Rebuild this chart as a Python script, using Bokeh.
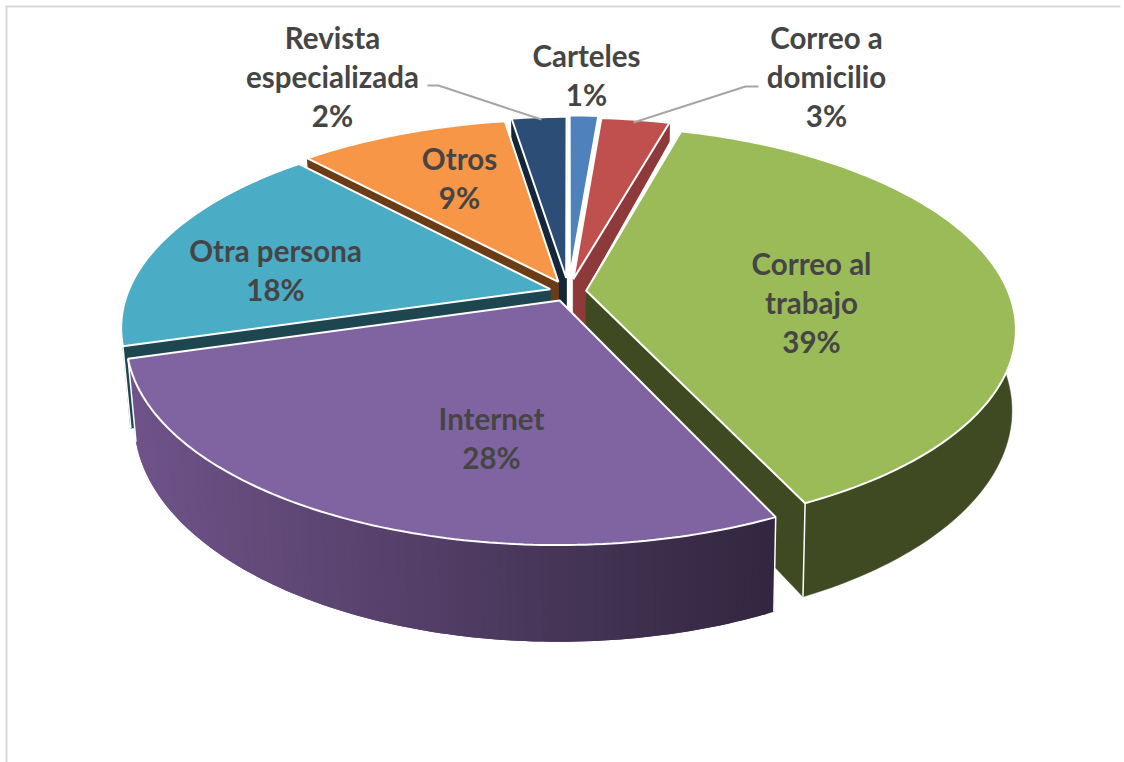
import math
from bokeh.plotting import figure
from bokeh.models import Range1d, ColumnDataSource
from bokeh.core.properties import value
from bokeh.embed import file_html
from bokeh.resources import INLINE

# ---- data (clockwise from the top) ----
categories = ["Carteles", "Correo a domicilio", "Correo al trabajo", "Internet",
              "Otra persona", "Otros", "Revista especializada"]
shares = [1.3, 3.1, 38.6, 27.5, 17.5, 9.49, 2.49]
percent_labels = ["1%", "3%", "39%", "28%", "18%", "9%", "2%"]
label_lines = [["Carteles"], ["Correo a", "domicilio"], ["Correo al", "trabajo"], ["Internet"],
               ["Otra persona"], ["Otros"], ["Revista", "especializada"]]

# ---- styling ----
top_colors = ["#4f81bd", "#c0504d", "#9bbb59", "#8064a2", "#4bacc6", "#f79646", "#2c4d75"]
face_colors = ["#2c4d75", "#8f3a3a", "#3f4a22", "#3f2f57", "#1d4651", "#6b3d17", "#14263a"]
wall_left = [None, "#8f3a3a", "#3f4a22", "#6f5389", "#1d4651", "#6b3d17", "#14263a"]
wall_right = [None, "#8f3a3a", "#3f4a22", "#32263f", "#1d4651", "#6b3d17", "#14263a"]
explode = [0.08, 0.065, 0.042, 0.05, 0.045, 0.055, 0.07]
label_centers = [(586, 55), (826, 37), (811, 263), (491, 418), (275, 250), (459, 158), (332, 37)]
LINE_STEP = 39
leaders = [([427, 438, 541], [85, 85, 119]), ([633, 745, 758], [122, 86, 86])]

# ---- projection of the pie plane on the page ----
CX, CY, R, K, D, H = 568.0, 291.0, 422.0, 195.6, 0.185, 78.0
SHRINK_LEFT, SHRINK_RIGHT = 0.982, 0.991


def proj(u, v):
    s = 1.0 / (1.0 - D * v)
    return CX + R * u * s, CY + K * v * s, s


def down(pt):
    f = SHRINK_LEFT if pt[0] < CX else SHRINK_RIGHT
    return CX + (pt[0] - CX) * f, pt[1] + H * pt[2]


def hexrgb(h):
    return tuple(int(h[i:i + 2], 16) for i in (1, 3, 5))


def mix(a, b, t):
    ca, cb = hexrgb(a), hexrgb(b)
    return "#%02x%02x%02x" % tuple(round(ca[i] + (cb[i] - ca[i]) * t) for i in range(3))


p = figure(width=1124, height=762, x_range=Range1d(0, 1124), y_range=Range1d(762, 0),
           output_backend="svg", toolbar_location=None, min_border=0,
           outline_line_color=None, background_fill_color="white")
p.axis.visible = False
p.grid.visible = False

# frame (top and left only)
p.line([5, 1120], [6, 6], line_color="#d9d9d9", line_width=2)
p.line([6, 6], [5, 762], line_color="#d9d9d9", line_width=2)

# slice geometry
total = sum(shares)
angles = [0.0]
for v_ in shares:
    angles.append(angles[-1] + v_ / total * 2 * math.pi)

slices = []
for i in range(len(shares)):
    a0, a1 = angles[i], angles[i + 1]
    mid = (a0 + a1) / 2
    eu, ev = explode[i] * math.sin(mid), -explode[i] * math.cos(mid)
    n = max(4, int((a1 - a0) * 60))
    arc = [proj(eu + math.sin(a0 + (a1 - a0) * j / n), ev - math.cos(a0 + (a1 - a0) * j / n))
           for j in range(n + 1)]
    apex = proj(eu, ev)
    slices.append(dict(i=i, a0=a0, a1=a1, arc=arc, apex=apex))

# paint back to front
order = [6, 0, 1, 5, 4, 2, 3]
xmin, xmax = 130.0, 780.0
for idx in order:
    sl = slices[idx]
    arc, apex = sl["arc"], sl["apex"]

    # white gap kept along the leading edge of the largest slice
    if idx == 2:
        p.patch([apex[0], arc[0][0], arc[0][0] - 8], [apex[1], arc[0][1], arc[0][1] + 5],
                fill_color="white", line_color="white", line_width=1)

    # cut faces: hidden one first
    faces = [(-math.sin(sl["a0"]), arc[0]), (math.sin(sl["a1"]), arc[-1])]
    faces.sort(key=lambda f: f[0])
    if idx != 0:
        for _, outer in faces:
            b_out, b_apex = down(outer), down(apex)
            p.patch([apex[0], outer[0], b_out[0], b_apex[0]],
                    [apex[1], outer[1], b_out[1], b_apex[1]],
                    fill_color=face_colors[idx], line_color=face_colors[idx], line_width=0.5)

    # outer wall: one piece when flat, overlapping fine steps when shaded
    if wall_left[idx] is not None:
        if wall_left[idx] == wall_right[idx]:
            bottom = [down(q) for q in arc]
            p.patch([q[0] for q in arc] + [q[0] for q in reversed(bottom)],
                    [q[1] for q in arc] + [q[1] for q in reversed(bottom)],
                    fill_color=wall_left[idx], line_color=wall_left[idx], line_width=0.5)
        else:
            for j in range(len(arc) - 1):
                seg = arc[j:j + 3]
                bottom = [down(q) for q in seg]
                t = min(1.0, max(0.0, (seg[0][0] - xmin) / (xmax - xmin)))
                col = mix(wall_left[idx], wall_right[idx], t)
                p.patch([q[0] for q in seg] + [q[0] for q in reversed(bottom)],
                        [q[1] for q in seg] + [q[1] for q in reversed(bottom)],
                        fill_color=col, line_color=None)
        # white corner edges on the front part of the wall
        for k, a in [(0, arc[0]), (1, arc[-1])]:
            ang = sl["a0"] if k == 0 else sl["a1"]
            if -math.cos(ang) > 0.1:
                ba = down(a)
                p.line([a[0], ba[0]], [a[1], ba[1]], line_color="white", line_width=1.5)

    # top
    xs = [apex[0]] + [q[0] for q in arc]
    ys = [apex[1]] + [q[1] for q in arc]
    p.patch(xs, ys, fill_color=top_colors[idx], line_color="white", line_width=2)

# leader lines
for lx, ly in leaders:
    p.line(lx, ly, line_color="#a6a6a6", line_width=2)

# labels
tx, ty, tt = [], [], []
for i, lines in enumerate(label_lines):
    cx, cy = label_centers[i]
    for j, t in enumerate(lines + [percent_labels[i]]):
        tx.append(cx)
        ty.append(cy + j * LINE_STEP)
        tt.append(t)
p.text(x="x", y="y", text="t", source=ColumnDataSource(dict(x=tx, y=ty, t=tt)),
       text_font=value("Lato"), text_font_style="bold", text_font_size="29.5px",
       text_color="#454545", text_align="center", text_baseline="middle")

open("out.html", "w").write(file_html(p, INLINE))
